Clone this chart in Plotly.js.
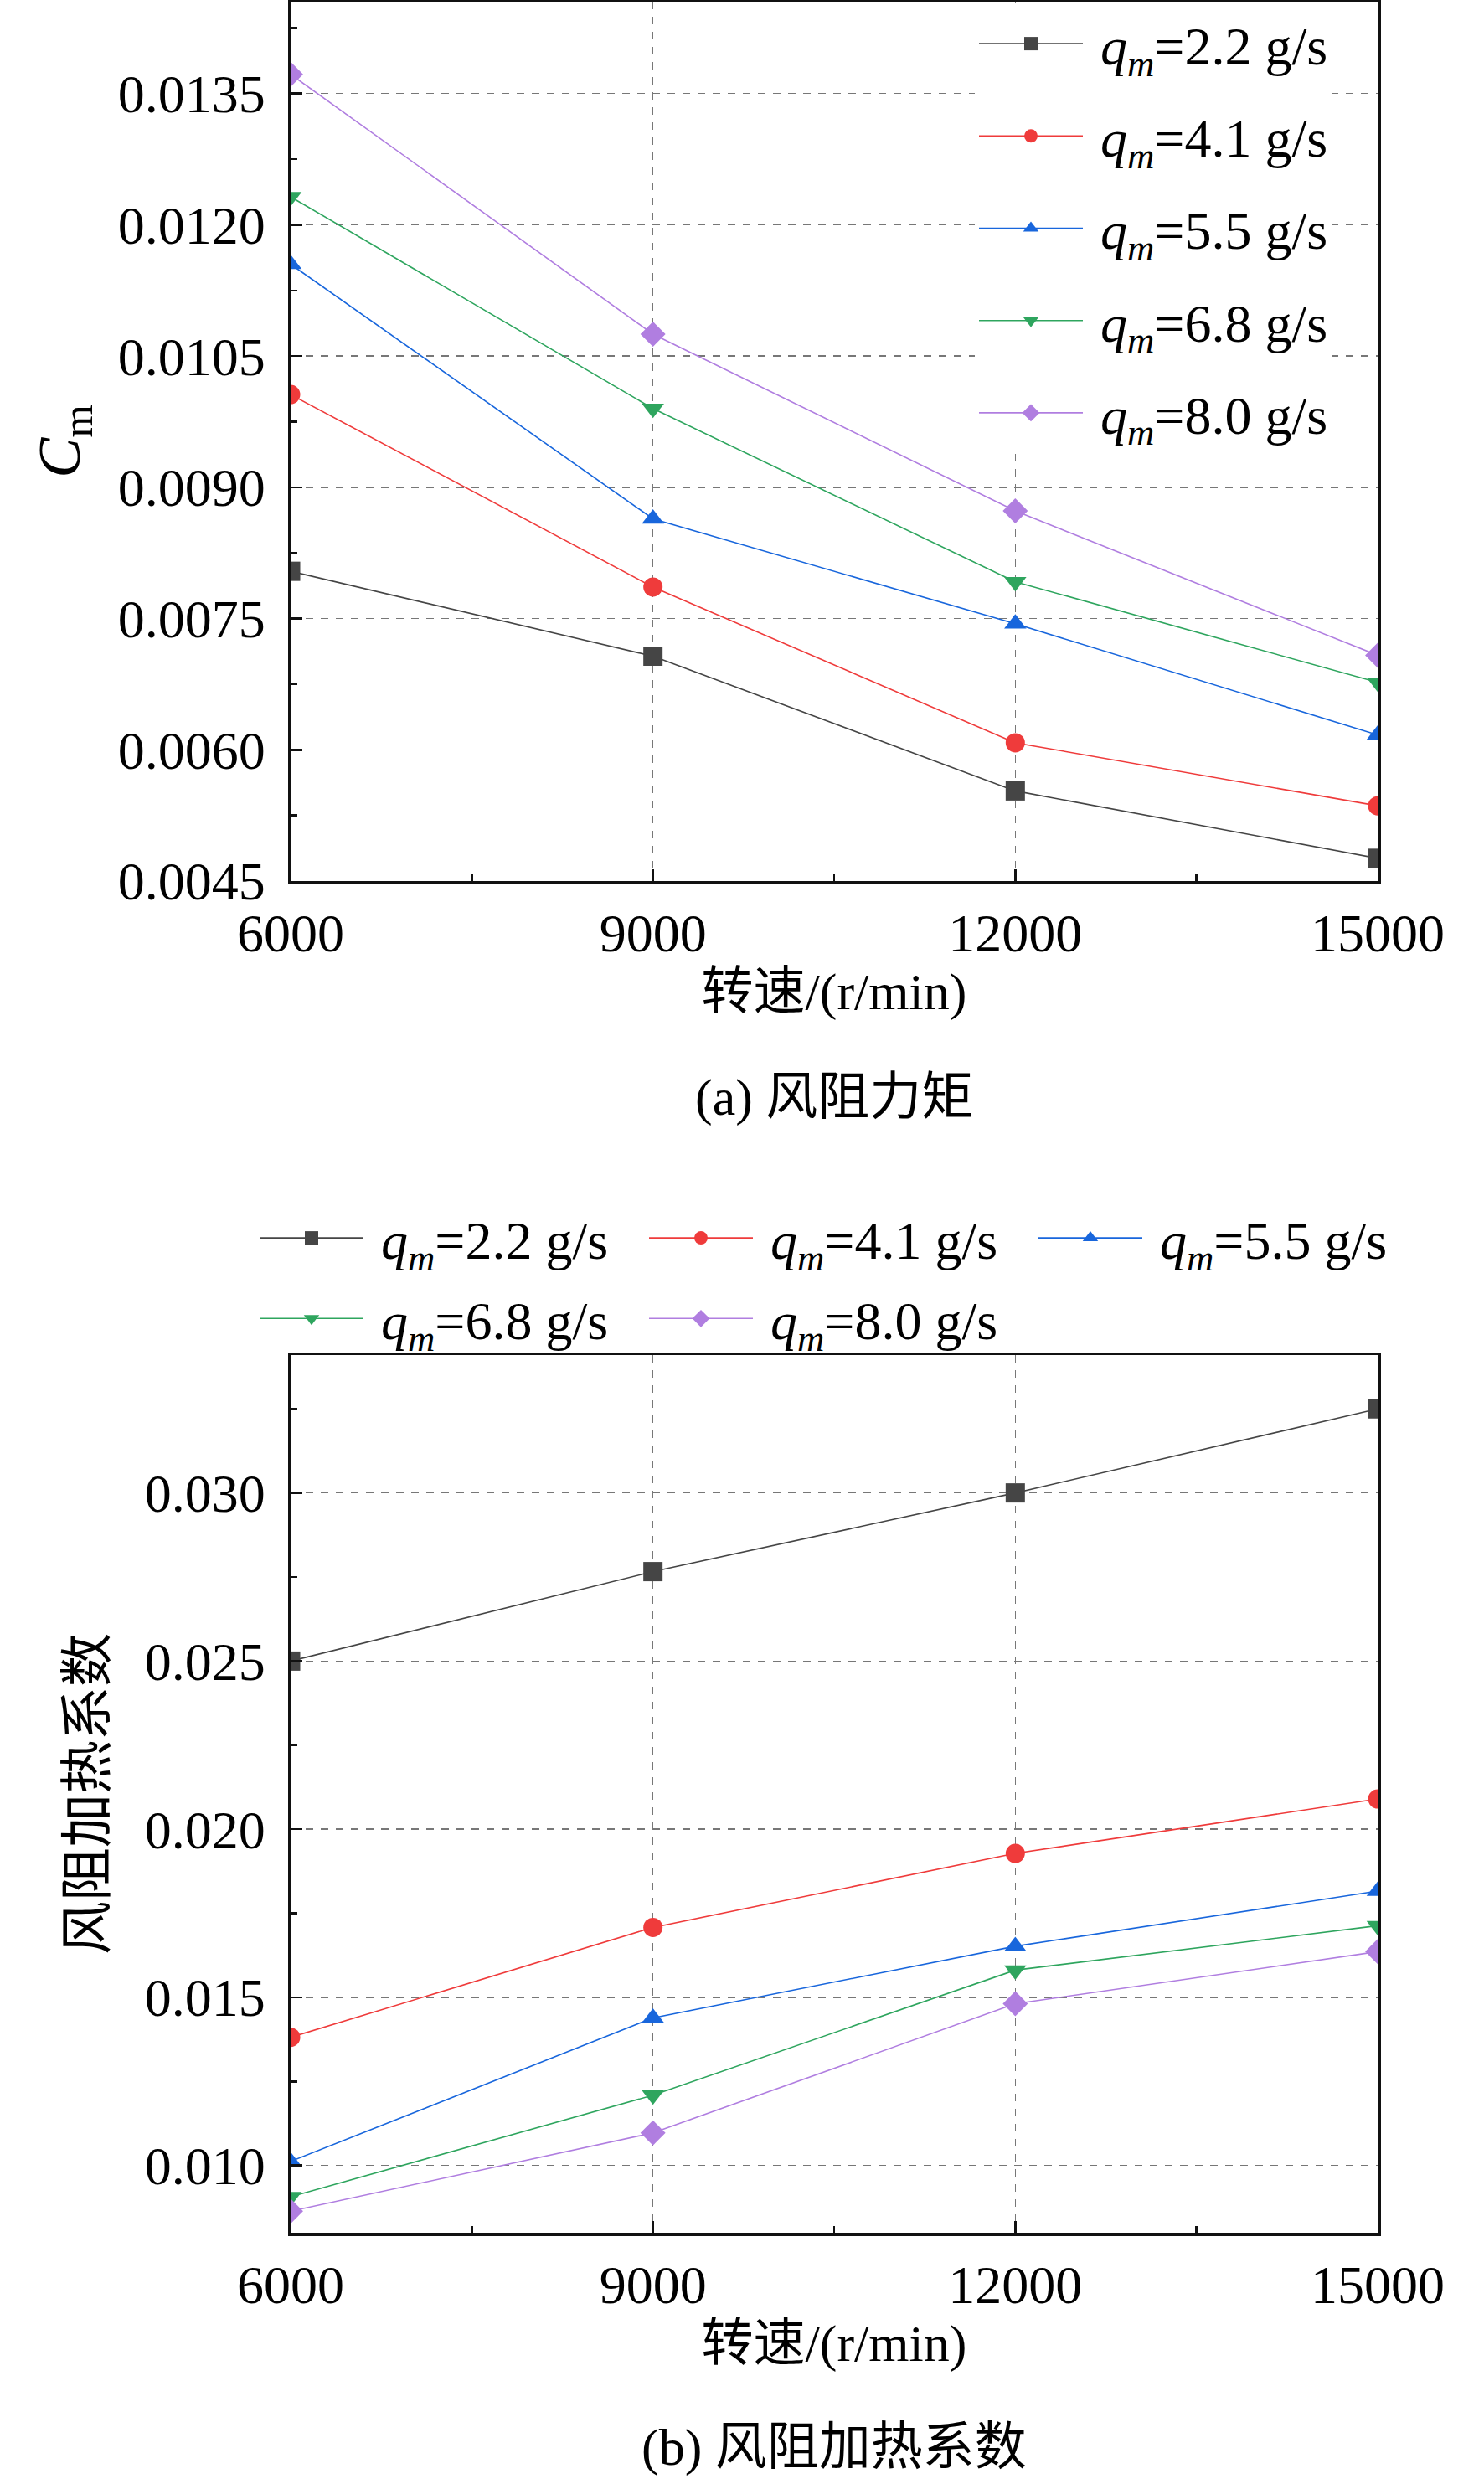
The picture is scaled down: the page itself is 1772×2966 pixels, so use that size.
<!DOCTYPE html>
<html>
<head>
<meta charset="utf-8">
<script src="https://cdn.plot.ly/plotly-3.0.1.min.js"></script>
<style>body{margin:0;background:#fff}</style>
</head>
<body>
<div id="chart" style="width:1772px;height:2966px"></div>
<script>
// rotating speed, r/min
var speeds = [6000, 9000, 12000, 15000];
var flowRates = ['2.2', '4.1', '5.5', '6.8', '8.0'];

// (a) windage torque coefficient Cm
var cm22 = [0.00804, 0.00707, 0.00553, 0.00476];
var cm41 = [0.01006, 0.00786, 0.00608, 0.00536];
var cm55 = [0.01155, 0.00864, 0.00744, 0.00617];
var cm68 = [0.01232, 0.00990, 0.00792, 0.00677];
var cm80 = [0.01372, 0.01075, 0.00873, 0.00708];

// (b) windage heating coefficient
var heat22 = [0.0250, 0.02766, 0.0300, 0.0325];
var heat41 = [0.01381, 0.01708, 0.01928, 0.0209];
var heat55 = [0.01012, 0.01439, 0.01652, 0.01816];
var heat68 = [0.00907, 0.01209, 0.01581, 0.01713];
var heat80 = [0.00864, 0.01097, 0.01481, 0.01636];

var colors = ['#454545', '#ef3b3b', '#1866dc', '#2ea55e', '#b07ee0'];
var symbols = ['square', 'circle', 'triangle-up', 'triangle-down', 'diamond'];

var serif = 'Liberation Serif, Times New Roman, Noto Sans CJK SC, serif';

function makeTrace(ys, i, xa, ya, legend) {
    return {
        x: speeds, y: ys, xaxis: xa, yaxis: ya,
        type: 'scatter', mode: 'lines+markers',
        // leading space keeps a gap between the legend line and its text
        name: '&nbsp;<i>q</i><sub><i>m</i></sub>=' + flowRates[i] + ' g/s',
        legend: legend, legendgroup: legend + i,
        line: { color: colors[i], width: 1.6 },
        marker: { color: colors[i], symbol: symbols[i], size: 23 }
    };
}

var data = [];
[cm22, cm41, cm55, cm68, cm80].forEach(function (ys, i) {
    data.push(makeTrace(ys, i, 'x', 'y', 'legend'));
});
[heat22, heat41, heat55, heat68, heat80].forEach(function (ys, i) {
    data.push(makeTrace(ys, i, 'x2', 'y2', 'legend2'));
});

function xAxis(anchor) {
    return {
        anchor: anchor, domain: [347 / 1772, 1645 / 1772],
        range: [6000, 15000], tick0: 6000, dtick: 3000, tickformat: 'd',
        ticks: 'inside', ticklen: 14, tickwidth: 2.5, tickcolor: '#111',
        minor: { ticks: 'inside', ticklen: 8, tickwidth: 2.5, tickcolor: '#111', dtick: 1500 },
        showline: true, linecolor: '#111', linewidth: 3.5, mirror: true,
        showgrid: true, gridcolor: '#777', griddash: 'dash', gridwidth: 1.5,
        zeroline: false,
        tickfont: { family: serif, size: 64, color: '#000' },
        ticklabelstandoff: 4,
        title: { text: '转速/(r/min)', font: { family: serif, size: 62, color: '#000' }, standoff: 12 }
    };
}

function yAxis(anchor, domain, range, tick0, dtick, fmt) {
    return {
        anchor: anchor, domain: domain,
        range: range, tick0: tick0, dtick: dtick, tickformat: fmt,
        ticks: 'inside', ticklen: 14, tickwidth: 2.5, tickcolor: '#111',
        minor: { ticks: 'inside', ticklen: 8, tickwidth: 2.5, tickcolor: '#111', dtick: dtick / 2 },
        showline: true, linecolor: '#111', linewidth: 3.5, mirror: true,
        showgrid: true, gridcolor: '#777', griddash: 'dash', gridwidth: 1.5,
        zeroline: false,
        tickfont: { family: serif, size: 64, color: '#000' },
        ticklabelstandoff: 14
    };
}

var yA = yAxis('x', [1 - 1052 / 2966, 1 - 2 / 2966], [0.0045, 0.01455], 0.0045, 0.0015, '.4f');
yA.title = { text: '<i>C</i><sub>m</sub>', font: { family: serif, size: 72, color: '#000' }, standoff: 22 };
var yB = yAxis('x2', [1 - 2666 / 2966, 1 - 1618 / 2966], [0.008, 0.0341], 0.010, 0.005, '.3f');
yB.title = { text: '风阻加热系数', font: { family: serif, size: 64, color: '#000' }, standoff: 26 };

var layout = {
    width: 1772, height: 2966,
    margin: { l: 0, r: 0, t: 0, b: 0 },
    paper_bgcolor: '#fff', plot_bgcolor: '#fff',
    showlegend: true,
    xaxis: xAxis('y'),
    yaxis: yA,
    xaxis2: xAxis('y2'),
    yaxis2: yB,
    legend: {
        x: 1164 / 1772, xanchor: 'left', y: 1 - 4 / 2966, yanchor: 'top',
        bgcolor: '#fff', borderwidth: 0,
        font: { family: serif, size: 64, color: '#000' },
        itemwidth: 124, traceorder: 'grouped', tracegroupgap: 24
    },
    legend2: {
        orientation: 'h',
        x: 305 / 1772, xanchor: 'left', y: 1 - 1430 / 2966, yanchor: 'top',
        bgcolor: 'rgba(0,0,0,0)', borderwidth: 0,
        font: { family: serif, size: 64, color: '#000' },
        itemwidth: 124, entrywidth: 326, entrywidthmode: 'pixels'
    },
    annotations: [
        { text: '(a) 风阻力矩', xref: 'paper', yref: 'paper', x: 996 / 1772, y: 1 - 1310 / 2966,
          xanchor: 'center', yanchor: 'middle',
          showarrow: false, font: { family: serif, size: 62, color: '#000' } },
        { text: '(b) 风阻加热系数', xref: 'paper', yref: 'paper', x: 996 / 1772, y: 1 - 2922 / 2966,
          xanchor: 'center', yanchor: 'middle',
          showarrow: false, font: { family: serif, size: 62, color: '#000' } }
    ]
};

Plotly.newPlot('chart', data, layout, { displayModeBar: false, staticPlot: true });
</script>
</body>
</html>
